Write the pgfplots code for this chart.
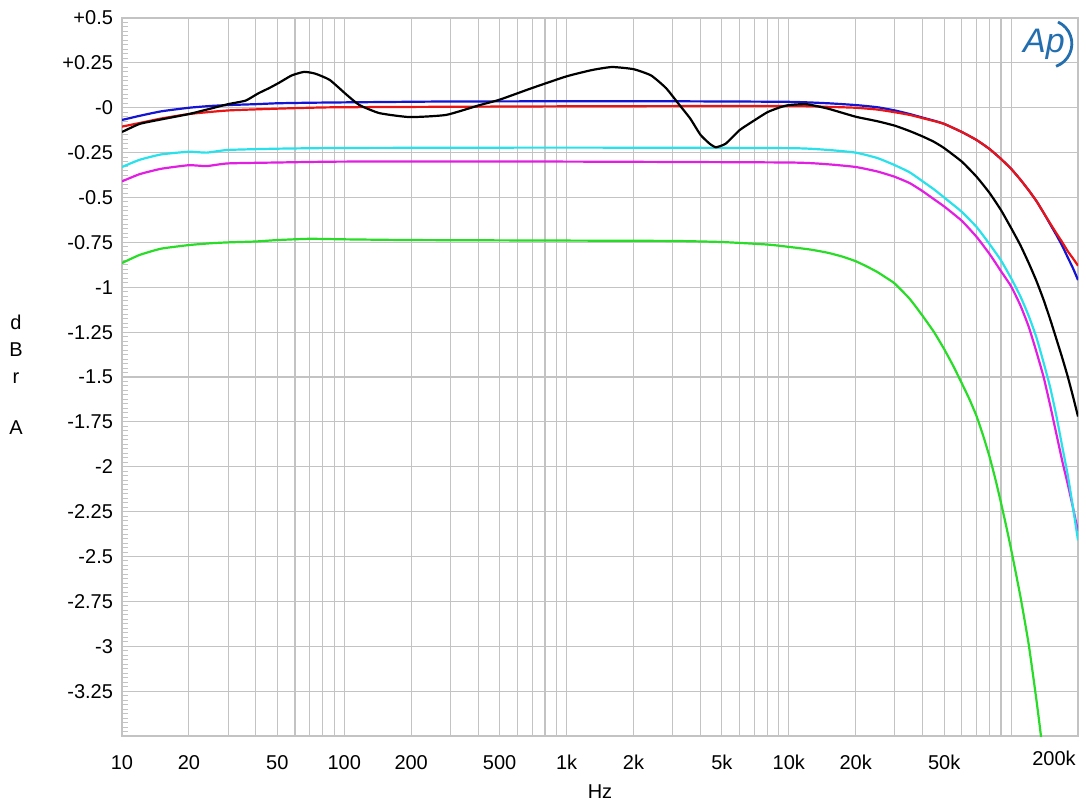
\documentclass[border=0pt]{standalone}
\usepackage{pgfplots}
\pgfplotsset{compat=1.18}
\usepackage{fontspec}
\setmainfont{Liberation Sans}
\definecolor{gridgray}{RGB}{195,195,195}
\definecolor{cblue}{RGB}{20,20,210}
\definecolor{cred}{RGB}{235,20,20}
\definecolor{ccyan}{RGB}{40,225,235}
\definecolor{cmag}{RGB}{225,30,225}
\definecolor{cgreen}{RGB}{40,220,40}
\definecolor{apblue}{RGB}{35,110,175}
\begin{document}
\begin{tikzpicture}
\path[use as bounding box] (-61pt,-34.5pt) rectangle (482pt,368pt);
\begin{axis}[
  at={(0,0)}, anchor=south west,
  scale only axis, width=478pt, height=359pt,
  xmode=log, xmin=10, xmax=200000, ymin=-3.5, ymax=0.5,
  font=\fontsize{10}{12}\selectfont,
  axis line style={gridgray, line width=0.6pt},
  xmajorgrids=true, xminorgrids=false,
  ymajorgrids=true, yminorgrids=false,
  major grid style={gridgray, line width=0.55pt},
  xtick={10,20,30,40,50,60,70,80,90,100,200,300,400,500,600,700,800,900,1000,2000,3000,4000,5000,6000,7000,8000,9000,10000,20000,30000,40000,50000,60000,70000,80000,90000,100000},
  xticklabels={10,20,,,50,,,,,100,200,,,500,,,,,1k,2k,,,5k,,,,,10k,20k,,,50k,,,,,},
  minor x tick num=0,
  ytick={-3.5,-3.25,-3,-2.75,-2.5,-2.25,-2,-1.75,-1.5,-1.25,-1,-0.75,-0.5,-0.25,0,0.25,0.5},
  yticklabels={,-3.25,-3,-2.75,-2.5,-2.25,-2,-1.75,-1.5,-1.25,-1,-0.75,-0.5,-0.25,-0,+0.25,+0.5},
  minor y tick num=9,
  major tick length=0pt,
  minor tick length=3pt,
  minor tick style={gridgray, line width=0.5pt},
  xtick pos=bottom, ytick pos=left,
  tick align=inside,
  xticklabel style={yshift=-6pt},
  yticklabel style={xshift=-1pt},
  clip=true,
  every axis plot/.append style={line width=1.1pt, no markers, smooth, tension=0.3},
]
% green
\addplot[cgreen] coordinates {
(10,-0.865)(12,-0.82)(15,-0.785)(20,-0.765)(25,-0.755)(30,-0.75)(40,-0.745)(50,-0.737)(70,-0.73)(100,-0.733)(200,-0.737)(1000,-0.74)(3000,-0.742)(5000,-0.748)(8000,-0.762)(10000,-0.775)(12500,-0.79)(15000,-0.808)(17500,-0.83)(20000,-0.855)(22500,-0.885)(25000,-0.915)(27500,-0.948)(30000,-0.98)(35000,-1.065)(40000,-1.16)(45000,-1.25)(50000,-1.345)(55000,-1.44)(60000,-1.535)(65000,-1.625)(70000,-1.72)(75000,-1.83)(80000,-1.945)(85000,-2.07)(90000,-2.2)(95000,-2.33)(100000,-2.46)(110000,-2.72)(120000,-2.99)(130000,-3.3)(135000,-3.46)(138000,-3.56)};
% magenta
\addplot[cmag] coordinates {
(10,-0.41)(12,-0.37)(15,-0.34)(20,-0.32)(24,-0.325)(30,-0.31)(50,-0.305)(100,-0.30)(1000,-0.30)(10000,-0.305)(15000,-0.315)(20000,-0.33)(25000,-0.355)(30000,-0.385)(35000,-0.42)(40000,-0.465)(45000,-0.51)(50000,-0.55)(60000,-0.63)(70000,-0.72)(80000,-0.815)(90000,-0.91)(100000,-0.995)(110000,-1.10)(120000,-1.22)(130000,-1.36)(140000,-1.50)(150000,-1.66)(160000,-1.82)(170000,-1.97)(180000,-2.10)(190000,-2.23)(200000,-2.36)};
% cyan
\addplot[ccyan] coordinates {
(10,-0.33)(12,-0.29)(15,-0.26)(20,-0.245)(24,-0.25)(30,-0.235)(50,-0.228)(100,-0.224)(1000,-0.222)(10000,-0.225)(15000,-0.235)(20000,-0.25)(25000,-0.28)(30000,-0.32)(35000,-0.36)(40000,-0.41)(45000,-0.455)(50000,-0.50)(60000,-0.58)(70000,-0.665)(80000,-0.76)(90000,-0.85)(100000,-0.95)(110000,-1.05)(120000,-1.16)(130000,-1.28)(140000,-1.42)(150000,-1.56)(160000,-1.72)(170000,-1.89)(180000,-2.05)(190000,-2.23)(200000,-2.41)};
% blue
\addplot[cblue] coordinates {
(10,-0.068)(12,-0.045)(15,-0.02)(20,0.0)(25,0.01)(30,0.015)(40,0.02)(50,0.025)(70,0.028)(100,0.03)(150,0.032)(300,0.035)(1000,0.036)(3000,0.036)(10000,0.033)(15000,0.025)(20000,0.015)(25000,0.003)(30000,-0.015)(35000,-0.035)(40000,-0.055)(45000,-0.072)(50000,-0.09)(60000,-0.135)(70000,-0.18)(80000,-0.23)(90000,-0.285)(100000,-0.34)(110000,-0.40)(120000,-0.46)(130000,-0.52)(140000,-0.585)(150000,-0.65)(160000,-0.71)(170000,-0.77)(180000,-0.835)(190000,-0.895)(200000,-0.96)};
% red
\addplot[cred] coordinates {
(10,-0.105)(12,-0.085)(15,-0.06)(20,-0.035)(30,-0.015)(50,-0.005)(70,0.0)(100,0.003)(1000,0.008)(10000,0.01)(15000,0.005)(20000,0.0)(25000,-0.01)(30000,-0.025)(35000,-0.04)(40000,-0.058)(45000,-0.074)(50000,-0.09)(60000,-0.135)(70000,-0.18)(80000,-0.23)(90000,-0.285)(100000,-0.34)(110000,-0.40)(120000,-0.46)(130000,-0.52)(140000,-0.585)(150000,-0.645)(160000,-0.70)(170000,-0.75)(180000,-0.80)(190000,-0.84)(200000,-0.88)};
% black
\addplot[black] coordinates {
(10,-0.135)(12,-0.09)(15,-0.065)(20,-0.035)(25,-0.005)(30,0.02)(36,0.04)(41,0.08)(46,0.11)(51,0.14)(58,0.18)(66,0.20)(74,0.19)(86,0.155)(103,0.07)(117,0.015)(144,-0.03)(197,-0.052)(287,-0.04)(407,0.015)(500,0.045)(700,0.11)(1000,0.175)(1300,0.21)(1600,0.227)(2000,0.215)(2400,0.18)(2800,0.11)(3200,0.02)(3600,-0.06)(4000,-0.15)(4400,-0.2)(4700,-0.22)(5200,-0.2)(6000,-0.125)(7000,-0.07)(8000,-0.025)(9000,0.0)(10000,0.015)(12000,0.02)(15000,-0.005)(20000,-0.05)(25000,-0.075)(30000,-0.1)(35000,-0.13)(40000,-0.16)(45000,-0.19)(50000,-0.225)(60000,-0.30)(70000,-0.385)(80000,-0.475)(90000,-0.57)(100000,-0.67)(110000,-0.765)(120000,-0.865)(130000,-0.965)(140000,-1.07)(150000,-1.18)(160000,-1.29)(170000,-1.395)(180000,-1.50)(190000,-1.61)(200000,-1.72)};
\end{axis}
% labels outside the axis
\node[font=\fontsize{10}{12}\selectfont] at (239pt,-28pt) {Hz};
\node[font=\fontsize{10}{12}\selectfont] at (-53pt,207pt) {d};
\node[font=\fontsize{10}{12}\selectfont] at (-53pt,193pt) {B};
\node[font=\fontsize{10}{12}\selectfont] at (-53pt,179pt) {r};
\node[font=\fontsize{10}{12}\selectfont] at (-53pt,154pt) {A};
\node[font=\fontsize{10}{12}\selectfont] at (466pt,-11pt) {200k};
% AP logo
\node[font=\fontsize{17}{17}\selectfont\itshape, text=apblue] at (461pt,346pt) {Ap};
\draw[apblue, line width=1.4pt] (468pt,357pt) arc[start angle=65, end angle=-70, radius=12pt];
\end{tikzpicture}
\end{document}
